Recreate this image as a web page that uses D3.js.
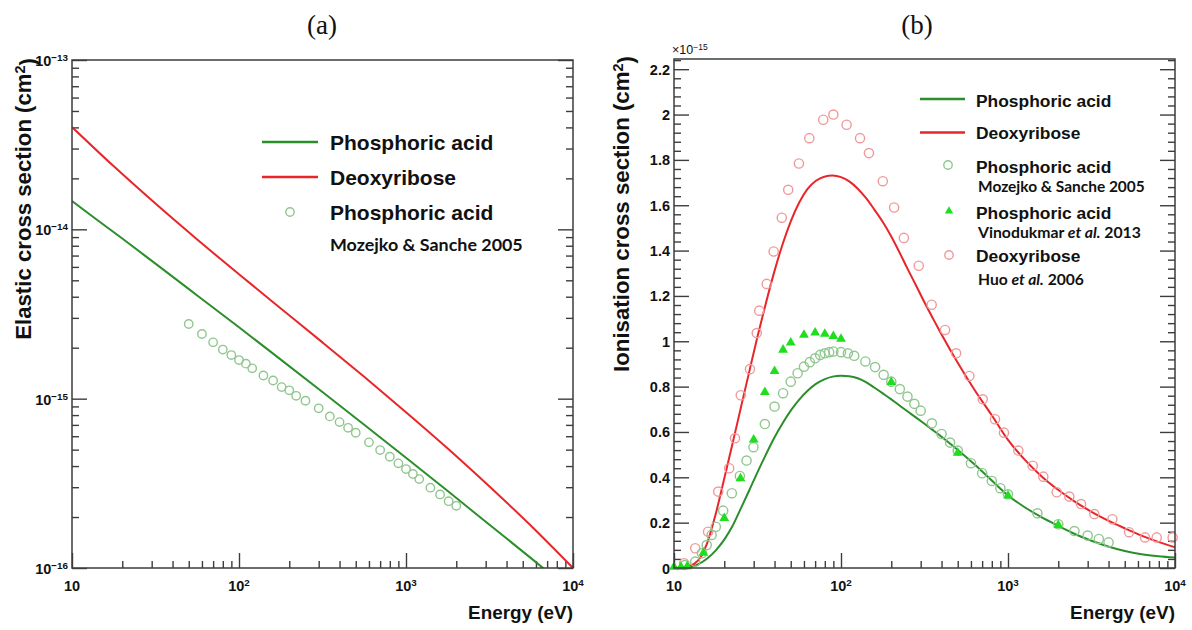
<!DOCTYPE html>
<html>
<head>
<meta charset="utf-8">
<script src="https://cdn.jsdelivr.net/npm/d3@7"></script>
<style>
  html, body { margin: 0; padding: 0; background: #fff; }
  svg { display: block; }
</style>
</head>
<body>
<svg id="chart" width="1192" height="630"></svg>
<script>
// ---------- data ----------
// Energy axis shared by both panels (eV)
const energyDomain = [10, 10000];
const energyLabels = [10, 100, 1000, 10000];

// (a) Elastic cross sections, cm^2  [energy eV, sigma]
const elasticDomain = [1e-16, 1e-13];
const elasticLabels = [1e-16, 1e-15, 1e-14, 1e-13];
const elasticPhosphoric = [
  [10, 1.469e-14], [14.1, 1.14e-14], [20, 8.83e-15], [31.6, 6.27e-15], [56.2, 4.07e-15],
  [100, 2.64e-15], [178, 1.70e-15], [316, 1.095e-15], [562, 7.02e-16], [1000, 4.48e-16],
  [1778, 2.85e-16], [3162, 1.80e-16], [5623, 1.14e-16], [7943, 8.63e-17]
];
const elasticDeoxyribose = [
  [10, 4.02e-14], [17.8, 2.355e-14], [31.6, 1.419e-14], [56.2, 8.71e-15], [100, 5.43e-15],
  [178, 3.41e-15], [316, 2.15e-15], [562, 1.346e-15], [1000, 8.32e-16], [1778, 5.08e-16],
  [3162, 3.03e-16], [5623, 1.77e-16], [10000, 1.0e-16]
];
const elasticMozejko = [
  [50, 2.76e-15], [60, 2.41e-15], [70, 2.15e-15], [80, 1.95e-15], [90, 1.81e-15],
  [100, 1.69e-15], [110, 1.61e-15], [120, 1.51e-15], [140, 1.37e-15], [160, 1.28e-15],
  [180, 1.17e-15], [200, 1.12e-15], [220, 1.04e-15], [250, 9.72e-16], [300, 8.77e-16],
  [350, 7.86e-16], [400, 7.27e-16], [450, 6.73e-16], [500, 6.29e-16], [600, 5.52e-16],
  [700, 4.97e-16], [800, 4.54e-16], [900, 4.15e-16], [1000, 3.84e-16], [1100, 3.59e-16],
  [1200, 3.35e-16], [1400, 2.98e-16], [1600, 2.72e-16], [1800, 2.48e-16], [2000, 2.33e-16]
];

// (b) Ionisation cross sections, units of 1e-15 cm^2  [energy eV, sigma]
const ionDomain = [0, 2.245];
const ionLabels = [0, 0.2, 0.4, 0.6, 0.8, 1, 1.2, 1.4, 1.6, 1.8, 2, 2.2];
const ionPhosphoric = [
  [11.2, 0], [12.6, 0.004], [14.1, 0.018], [15.8, 0.042], [17.8, 0.078], [20, 0.125],
  [22.4, 0.185], [25.1, 0.262], [28.2, 0.342], [31.6, 0.422], [35.5, 0.5], [39.8, 0.573],
  [44.7, 0.638], [50.1, 0.695], [56.2, 0.743], [63.1, 0.782], [70.8, 0.812], [79.4, 0.832],
  [89.1, 0.844], [100, 0.848], [112, 0.846], [126, 0.837], [141, 0.82], [158, 0.796],
  [178, 0.77], [200, 0.744], [224, 0.717], [251, 0.69], [282, 0.663], [316, 0.636],
  [355, 0.608], [398, 0.58], [501, 0.52], [631, 0.456], [794, 0.388], [1000, 0.32],
  [1259, 0.268], [1585, 0.224], [1995, 0.186], [2512, 0.15], [3162, 0.12], [3981, 0.095],
  [5012, 0.075], [6310, 0.061], [7943, 0.052], [10000, 0.046]
];
const ionDeoxyribose = [
  [10.5, 0], [12, 0.006], [13.2, 0.018], [14.5, 0.05], [15.8, 0.11], [17.8, 0.24], [20, 0.395],
  [22.4, 0.548], [25.1, 0.705], [28.2, 0.865], [31.6, 1.02], [35.5, 1.168], [39.8, 1.305],
  [44.7, 1.428], [50.1, 1.53], [56.2, 1.612], [63.1, 1.672], [70.8, 1.708], [79.4, 1.726],
  [89.1, 1.731], [100, 1.724], [112, 1.705], [126, 1.673], [141, 1.632], [158, 1.582],
  [178, 1.526], [200, 1.462], [224, 1.392], [251, 1.318], [282, 1.245], [316, 1.172],
  [355, 1.101], [398, 1.033], [501, 0.904], [631, 0.785], [794, 0.677], [1000, 0.565],
  [1259, 0.478], [1585, 0.405], [1995, 0.345], [2512, 0.293], [3162, 0.248], [3981, 0.209],
  [5012, 0.175], [6310, 0.143], [7943, 0.115], [10000, 0.091]
];
const ionMozejko = [
  [11.6, 0.013], [13.4, 0.028], [14.7, 0.065], [15.7, 0.101], [16.8, 0.146], [17.8, 0.182],
  [19.7, 0.253], [22.2, 0.33], [24.8, 0.406], [27.2, 0.474], [29.9, 0.533], [35, 0.635],
  [40, 0.712], [45, 0.771], [50, 0.822], [55, 0.859], [60, 0.888], [65, 0.908], [70, 0.925],
  [75, 0.94], [80, 0.947], [85, 0.952], [90, 0.955], [100, 0.952], [110, 0.947], [120, 0.936],
  [140, 0.911], [160, 0.886], [180, 0.852], [200, 0.822], [225, 0.789], [250, 0.756],
  [275, 0.724], [300, 0.694], [350, 0.638], [400, 0.591], [450, 0.553], [500, 0.518],
  [600, 0.462], [700, 0.418], [800, 0.384], [900, 0.352], [1000, 0.325], [1500, 0.241],
  [2000, 0.193], [2500, 0.163], [3000, 0.143], [3500, 0.128], [4000, 0.113]
];
const ionVinodkumar = [
  [10, 0], [11, 0], [12, 0.003], [15, 0.062], [20, 0.215], [25, 0.391], [30, 0.562],
  [35, 0.771], [40, 0.864], [45, 0.958], [50, 0.989], [60, 1.024], [70, 1.034], [80, 1.028],
  [90, 1.018], [100, 1.006], [200, 0.815], [500, 0.503], [1000, 0.315], [2000, 0.185]
];
const ionHuo = [
  [11.5, 0.021], [13.4, 0.087], [16, 0.16], [18.4, 0.337], [21.4, 0.44], [23.2, 0.572],
  [25.1, 0.762], [28.5, 0.877], [31.3, 1.036], [32.4, 1.135], [35.9, 1.253], [39.5, 1.396],
  [44.2, 1.545], [48.3, 1.668], [56, 1.784], [64.6, 1.896], [78.3, 1.977], [90, 2.0],
  [108, 1.955], [130, 1.896], [147, 1.83], [178, 1.706], [208, 1.59], [238, 1.456],
  [292, 1.333], [349, 1.161], [420, 1.05], [489, 0.947], [587, 0.847], [706, 0.744],
  [836, 0.656], [946, 0.597], [1153, 0.518], [1406, 0.451], [1627, 0.403], [1958, 0.334],
  [2329, 0.315], [2737, 0.282], [3288, 0.238], [4216, 0.215], [5311, 0.158], [6614, 0.135],
  [7770, 0.135], [9680, 0.135]
];

// ---------- style ----------
const SANS = "'Liberation Sans', Arial, Helvetica, sans-serif";
const NOTE = "Lato, 'Open Sans', sans-serif";
const SERIF = "'Liberation Serif', 'Times New Roman', serif";
const AXIS = "#3d3d3d";
const GREEN_LINE = "#2a8f2a";
const RED_LINE = "#e8262a";
const GREEN_MARK = "#8fc78f";
const RED_MARK = "#ef9a9a";
const TRI_FILL = "#1ede1e";

const svg = d3.select("#chart");
svg.append("rect").attr("width", 1192).attr("height", 630).attr("fill", "#fff");

const isDecade = v => Math.abs(Math.log10(v) - Math.round(Math.log10(v))) < 1e-6;

function styleTicks(g) {
  g.select(".domain").remove();
  g.selectAll(".tick line").attr("stroke", AXIS).attr("stroke-width", 1.4);
  g.selectAll(".tick text").remove();
}

// inward-pointing tick marks of one axis side
function ticks(parent, axisFn, scale, values, size, transform) {
  parent.append("g").attr("transform", transform)
    .call(axisFn(scale).tickValues(values).tickSize(size).tickFormat(""))
    .call(styleTicks);
}

function powerText(sel, base, exp) {
  sel.append("tspan").text(base);
  if (exp !== null) sel.append("tspan").attr("dy", "-0.5em").attr("font-size", "0.68em").text(exp);
}

function fitWidth(t, target) {
  const w = t.node().getComputedTextLength();
  const fs = parseFloat(t.attr("font-size"));
  t.attr("font-size", fs * target / w);
  return fs * target / w;
}

function frame(p) {
  svg.append("rect").attr("x", p.x0).attr("y", p.y0)
    .attr("width", p.x1 - p.x0).attr("height", p.y1 - p.y0)
    .attr("fill", "none").attr("stroke", AXIS).attr("stroke-width", 1.5);
}

function clip(id, p) {
  svg.append("clipPath").attr("id", id).append("rect")
    .attr("x", p.x0).attr("y", p.y0).attr("width", p.x1 - p.x0).attr("height", p.y1 - p.y0);
}

function energyAxis(p, x) {
  const all = x.ticks();
  const major = all.filter(isDecade), minor = all.filter(v => !isDecade(v));
  ticks(svg, d3.axisBottom, x, minor, -7, `translate(0,${p.y1})`);
  ticks(svg, d3.axisBottom, x, major, -15, `translate(0,${p.y1})`);
  const lab = svg.append("g").attr("font-family", SANS).attr("font-weight", "bold")
    .attr("font-size", 14.5).attr("fill", "#111");
  energyLabels.forEach(v => {
    const e = Math.round(Math.log10(v));
    const t = lab.append("text").attr("x", x(v)).attr("y", p.y1 + 23).attr("text-anchor", "middle");
    powerText(t, "10", e === 1 ? null : String(e));
  });
  const title = svg.append("text").attr("x", p.x1).attr("y", p.y1 + 51)
    .attr("text-anchor", "end").attr("font-family", SANS).attr("font-weight", "bold")
    .attr("font-size", 19).attr("fill", "#111").text("Energy (eV)");
  fitWidth(title, 105);
}

function yTitle(x, yTop, str, target) {
  const t = svg.append("text").attr("transform", `translate(${x},${yTop}) rotate(-90)`)
    .attr("text-anchor", "end").attr("font-family", SANS).attr("font-weight", "bold")
    .attr("font-size", 22).attr("fill", "#111");
  t.append("tspan").text(str);
  t.append("tspan").attr("dy", "-0.45em").attr("font-size", "0.65em").text("2");
  t.append("tspan").attr("dy", "0.45em").text(")");
  fitWidth(t, target);
}

function lineSample(x0, x1, y, color) {
  svg.append("line").attr("x1", x0).attr("x2", x1).attr("y1", y).attr("y2", y)
    .attr("stroke", color).attr("stroke-width", 2.4);
}

function legendText(x, cy, parts, family, size, target) {
  const t = svg.append("text").attr("x", x).attr("font-family", family)
    .attr("font-weight", "bold").attr("font-size", size).attr("fill", "#111");
  parts.forEach(pt => {
    const s = t.append("tspan").text(pt.s);
    if (pt.i) s.attr("font-style", "italic");
  });
  const fs = target ? fitWidth(t, target) : size;
  t.attr("y", cy + fs * 0.36);
}

// ---------- panel (a) ----------
const A = { x0: 72, x1: 573, y0: 60, y1: 568 };
const xA = d3.scaleLog().domain(energyDomain).range([A.x0, A.x1]);
const yA = d3.scaleLog().domain(elasticDomain).range([A.y1, A.y0]);
clip("clipA", A);

{
  const all = yA.ticks();
  const major = all.filter(isDecade), minor = all.filter(v => !isDecade(v));
  ticks(svg, d3.axisLeft, yA, minor, -7, `translate(${A.x0},0)`);
  ticks(svg, d3.axisLeft, yA, major, -15, `translate(${A.x0},0)`);
  ticks(svg, d3.axisLeft, yA, minor, 7, `translate(${A.x1},0)`);
  ticks(svg, d3.axisLeft, yA, major, 15, `translate(${A.x1},0)`);
  const lab = svg.append("g").attr("font-family", SANS).attr("font-weight", "bold")
    .attr("font-size", 14.5).attr("fill", "#111");
  elasticLabels.forEach(v => {
    const e = Math.round(Math.log10(v));
    const t = lab.append("text").attr("x", A.x0 - 4).attr("y", yA(v) + 6).attr("text-anchor", "end");
    powerText(t, "10", "\u2212" + String(-e));
  });
}
energyAxis(A, xA);

const lineA = d3.line().x(d => xA(d[0])).y(d => yA(d[1])).curve(d3.curveMonotoneX);
const gA = svg.append("g").attr("clip-path", "url(#clipA)");
gA.append("path").datum(elasticPhosphoric).attr("d", lineA)
  .attr("fill", "none").attr("stroke", GREEN_LINE).attr("stroke-width", 2);
gA.append("path").datum(elasticDeoxyribose).attr("d", lineA)
  .attr("fill", "none").attr("stroke", RED_LINE).attr("stroke-width", 2);
gA.selectAll("circle.moz").data(elasticMozejko).join("circle").attr("class", "moz")
  .attr("cx", d => xA(d[0])).attr("cy", d => yA(d[1])).attr("r", 4.2)
  .attr("fill", "none").attr("stroke", GREEN_MARK).attr("stroke-width", 1.4);
frame(A);

yTitle(31, 58, "Elastic cross section (cm", 282);

// legend (a)
lineSample(262, 318, 142, GREEN_LINE);
lineSample(262, 318, 177, RED_LINE);
svg.append("circle").attr("cx", 290).attr("cy", 212).attr("r", 4.2)
  .attr("fill", "none").attr("stroke", GREEN_MARK).attr("stroke-width", 1.4);
legendText(330, 142, [{ s: "Phosphoric acid" }], SANS, 21, null);
legendText(330, 177, [{ s: "Deoxyribose" }], SANS, 21, null);
legendText(330, 212, [{ s: "Phosphoric acid" }], SANS, 21, null);
legendText(330, 245, [{ s: "Mozejko & Sanche 2005" }], NOTE, 16, 193);

svg.append("text").attr("x", 322).attr("y", 34).attr("text-anchor", "middle")
  .attr("font-family", SERIF).attr("font-size", 27).attr("fill", "#111").text("(a)");

// ---------- panel (b) ----------
const B = { x0: 674, x1: 1175, y0: 59, y1: 568 };
const xB = d3.scaleLog().domain(energyDomain).range([B.x0, B.x1]);
const yB = d3.scaleLinear().domain(ionDomain).range([B.y1, B.y0]);
clip("clipB", B);

{
  const step = ionLabels[1] / 5;
  const minor = d3.range(0, Math.floor(ionDomain[1] / step + 1e-9) + 1)
    .filter(i => i % 5 !== 0).map(i => i * step);
  ticks(svg, d3.axisLeft, yB, minor, -7, `translate(${B.x0},0)`);
  ticks(svg, d3.axisLeft, yB, ionLabels, -15, `translate(${B.x0},0)`);
  ticks(svg, d3.axisLeft, yB, minor, 7, `translate(${B.x1},0)`);
  ticks(svg, d3.axisLeft, yB, ionLabels, 15, `translate(${B.x1},0)`);
  const lab = svg.append("g").attr("font-family", SANS).attr("font-weight", "bold")
    .attr("font-size", 14.5).attr("fill", "#111");
  ionLabels.forEach(v => {
    lab.append("text").attr("x", B.x0 - 4).attr("y", yB(v) + 5.5)
      .attr("text-anchor", "end").text(String(v));
  });
  const m = svg.append("text").attr("x", B.x0 - 2).attr("y", B.y0 - 5)
    .attr("font-family", SANS).attr("font-size", 12.5).attr("fill", "#111");
  powerText(m, "\u00d710", "\u221215");
}
energyAxis(B, xB);

const lineB = d3.line().x(d => xB(d[0])).y(d => yB(d[1])).curve(d3.curveMonotoneX);
const gB = svg.append("g").attr("clip-path", "url(#clipB)");
gB.append("path").datum(ionPhosphoric).attr("d", lineB)
  .attr("fill", "none").attr("stroke", GREEN_LINE).attr("stroke-width", 2);
gB.append("path").datum(ionDeoxyribose).attr("d", lineB)
  .attr("fill", "none").attr("stroke", RED_LINE).attr("stroke-width", 2);

const gBm = svg.append("g");
gBm.selectAll("circle.huo").data(ionHuo).join("circle").attr("class", "huo")
  .attr("cx", d => xB(d[0])).attr("cy", d => yB(d[1])).attr("r", 4.6)
  .attr("fill", "none").attr("stroke", RED_MARK).attr("stroke-width", 1.4);
gBm.selectAll("circle.moz").data(ionMozejko).join("circle").attr("class", "moz")
  .attr("cx", d => xB(d[0])).attr("cy", d => yB(d[1])).attr("r", 4.6)
  .attr("fill", "none").attr("stroke", GREEN_MARK).attr("stroke-width", 1.4);
const tri = d3.symbol(d3.symbolTriangle).size(42);
gBm.selectAll("path.vin").data(ionVinodkumar).join("path").attr("class", "vin")
  .attr("d", tri).attr("transform", d => `translate(${xB(d[0])},${yB(d[1]) - 1})`)
  .attr("fill", TRI_FILL);
frame(B);

yTitle(629, 56, "Ionisation cross section (cm", 316);

// legend (b)
lineSample(920, 965, 99, GREEN_LINE);
lineSample(920, 965, 132.5, RED_LINE);
svg.append("circle").attr("cx", 948).attr("cy", 165).attr("r", 4.2)
  .attr("fill", "none").attr("stroke", GREEN_MARK).attr("stroke-width", 1.4);
svg.append("path").attr("d", d3.symbol(d3.symbolTriangle).size(30)())
  .attr("transform", "translate(949,211)").attr("fill", TRI_FILL);
svg.append("circle").attr("cx", 949).attr("cy", 255).attr("r", 4.2)
  .attr("fill", "none").attr("stroke", RED_MARK).attr("stroke-width", 1.4);
legendText(976, 100.5, [{ s: "Phosphoric acid" }], SANS, 17.4, null);
legendText(976, 133, [{ s: "Deoxyribose" }], SANS, 17.4, null);
legendText(976, 167, [{ s: "Phosphoric acid" }], SANS, 17.4, null);
legendText(978, 186, [{ s: "Mozejko & Sanche 2005" }], NOTE, 14, 167);
legendText(976, 213, [{ s: "Phosphoric acid" }], SANS, 17.4, null);
legendText(978, 232, [{ s: "Vinodukmar " }, { s: "et al.", i: true }, { s: " 2013" }], NOTE, 14, 163);
legendText(976, 255.5, [{ s: "Deoxyribose" }], SANS, 17.4, null);
legendText(978, 279.5, [{ s: "Huo " }, { s: "et al.", i: true }, { s: " 2006" }], NOTE, 14, 106);

svg.append("text").attr("x", 917).attr("y", 34).attr("text-anchor", "middle")
  .attr("font-family", SERIF).attr("font-size", 27).attr("fill", "#111").text("(b)");
</script>
</body>
</html>
